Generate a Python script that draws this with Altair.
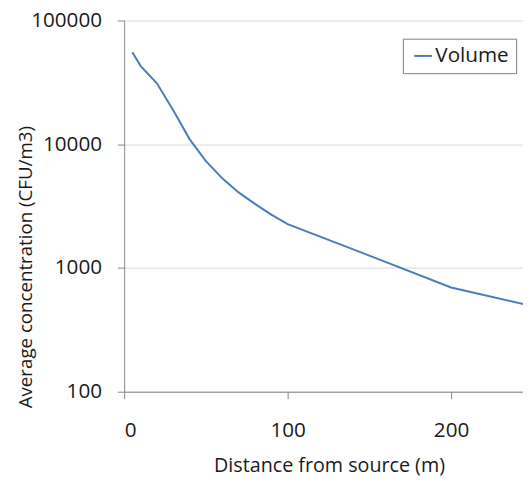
import altair as alt
import pandas as pd

distance = [5, 10, 20, 30, 40, 50, 60, 70, 80, 90, 100, 150, 200, 250]
concentration = [55300, 43000, 31100, 18800, 11000, 7300, 5300, 4080, 3300, 2700, 2260, 1260, 696, 490]
series_name = "Volume"
x_ticks = [0, 100, 200]
y_ticks = [100, 1000, 10000, 100000]

df = pd.DataFrame({
    "distance": distance,
    "concentration": concentration,
    "series": [series_name] * len(distance),
})

TEXT = "#1a1a1a"
AXIS = "#868686"

chart = alt.Chart(df).mark_line(clip=True, strokeWidth=2).encode(
    x=alt.X(
        "distance:Q",
        scale=alt.Scale(domain=[0, 244], nice=False, zero=False),
        axis=alt.Axis(
            values=x_ticks,
            grid=False,
            domainColor=AXIS,
            tickColor=AXIS,
            tickSize=7,
            labelFontSize=21,
            labelPadding=21,
            labelColor=TEXT,
            title="Distance from source (m)",
            titleFontSize=20,
            titleFontWeight="normal",
            titleColor=TEXT,
            titleX=208,
            titleY=81,
            titleAlign="center",
            titleBaseline="alphabetic",
        ),
    ),
    y=alt.Y(
        "concentration:Q",
        scale=alt.Scale(type="log", domain=[100, 100000], nice=False),
        axis=alt.Axis(
            values=y_ticks,
            format="d",
            grid=True,
            gridColor="#d9d9d9",
            domainColor=AXIS,
            tickColor=AXIS,
            tickSize=7,
            labelFontSize=21,
            labelPadding=16,
            labelColor=TEXT,
            title="Average concentration (CFU/m3)",
            titleFontSize=19,
            titleFontWeight="normal",
            titleColor=TEXT,
            titleAngle=270,
            titleX=-94,
            titleY=250,
            titleAlign="center",
            titleBaseline="alphabetic",
        ),
    ),
    color=alt.Color(
        "series:N",
        scale=alt.Scale(domain=[series_name], range=["#4a7ebb"]),
        legend=alt.Legend(
            title=None,
            orient="none",
            legendX=283,
            legendY=18.5,
            symbolType="stroke",
            symbolSize=324,
            symbolStrokeWidth=2,
            symbolOffset=3,
            labelFontSize=21,
            labelOffset=2,
            labelColor=TEXT,
            padding=7,
            strokeColor="#7f7f7f",
            fillColor="white",
        ),
    ),
).properties(
    width=405,
    height=377,
    autosize=alt.AutoSizeParams(type="none"),
    padding={"left": 118, "top": 9, "right": 0, "bottom": 88},
).configure(
    font="Open Sans",
).configure_view(
    stroke=None,
)

chart.save("out.html", embed_options={"renderer": "svg", "actions": False})
